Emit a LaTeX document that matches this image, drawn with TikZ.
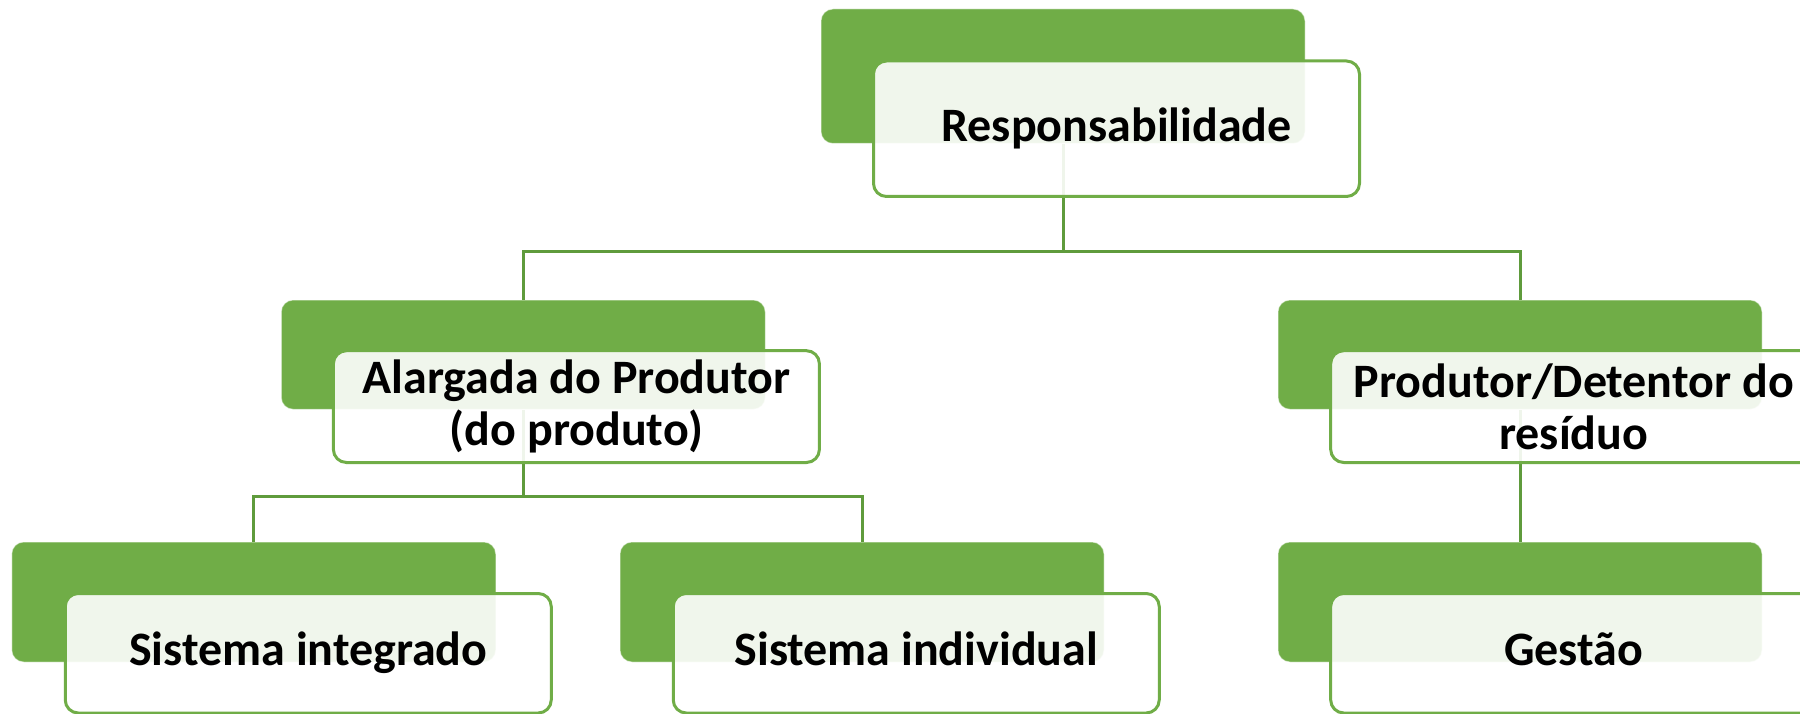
\documentclass[tikz,border=0pt]{standalone}
\usepackage{fontspec}
\setmainfont{Carlito}
\definecolor{grn}{HTML}{70AD47}
\definecolor{conn}{HTML}{5F9B3C}
\begin{document}
\begin{tikzpicture}[x=1pt,y=-1pt,
  backbox/.style={fill=grn, draw=white, draw opacity=0.45, line width=1pt,
    rounded corners=12pt, inner sep=0pt, minimum width=484pt},
  frontbox/.style={fill=white, fill opacity=0.9, text opacity=1, draw=grn,
    line width=3pt, rounded corners=13pt, inner sep=0pt, minimum width=486pt,
    font=\fontsize{48}{52}\selectfont\bfseries, align=center},
  oneline/.style={text height=35pt, text depth=10pt},
  link/.style={draw=conn, line width=3pt}]
\useasboundingbox (0,0) rectangle (1800,714);
\clip (0,0) rectangle (1800,714);
% back boxes
\node[backbox, minimum height=134.5pt] (b0) at (1063,76.25) {};
\node[backbox, minimum height=109.3pt] (b1) at (523.25,354.65) {};
\node[backbox, minimum height=109.3pt] (b2) at (1520,354.65) {};
\node[backbox, minimum height=120pt] (b3) at (253.75,602) {};
\node[backbox, minimum height=120pt] (b4) at (862,602) {};
\node[backbox, minimum height=120pt] (b5) at (1520,602) {};
% connectors
\coordinate (h0) at (0,251.5);
\coordinate (h1) at (0,496);
\draw[link] (b0.south) -- (b0.south |- h0);
\draw[link] (b1.north) |- (b2.north |- h0) -- (b2.north);
\draw[link] (b1.south) -- (b1.south |- h1);
\draw[link] (b3.north) |- (b4.north |- h1) -- (b4.north);
\draw[link] (b2.south) -- (b5.north);
% front boxes
\node[frontbox, oneline, minimum height=135.5pt] (f0) at (1116.5,128.75) {Responsabilidade};
\node[frontbox, minimum height=111.8pt] (f1) at (576.4,406.6) {Alargada do Produtor\\(do produto)};
\node[frontbox, minimum height=111.8pt] (f2) at (1573.7,406.6) {Produtor/Detentor do\\resíduo};
\node[frontbox, oneline, minimum height=119.5pt] (f3) at (308.25,653.25) {Sistema integrado};
\node[frontbox, oneline, minimum height=119.5pt] (f4) at (916.25,653.25) {Sistema individual};
\node[frontbox, oneline, minimum height=119.5pt] (f5) at (1573.7,653.25) {Gestão};
\end{tikzpicture}
\end{document}
